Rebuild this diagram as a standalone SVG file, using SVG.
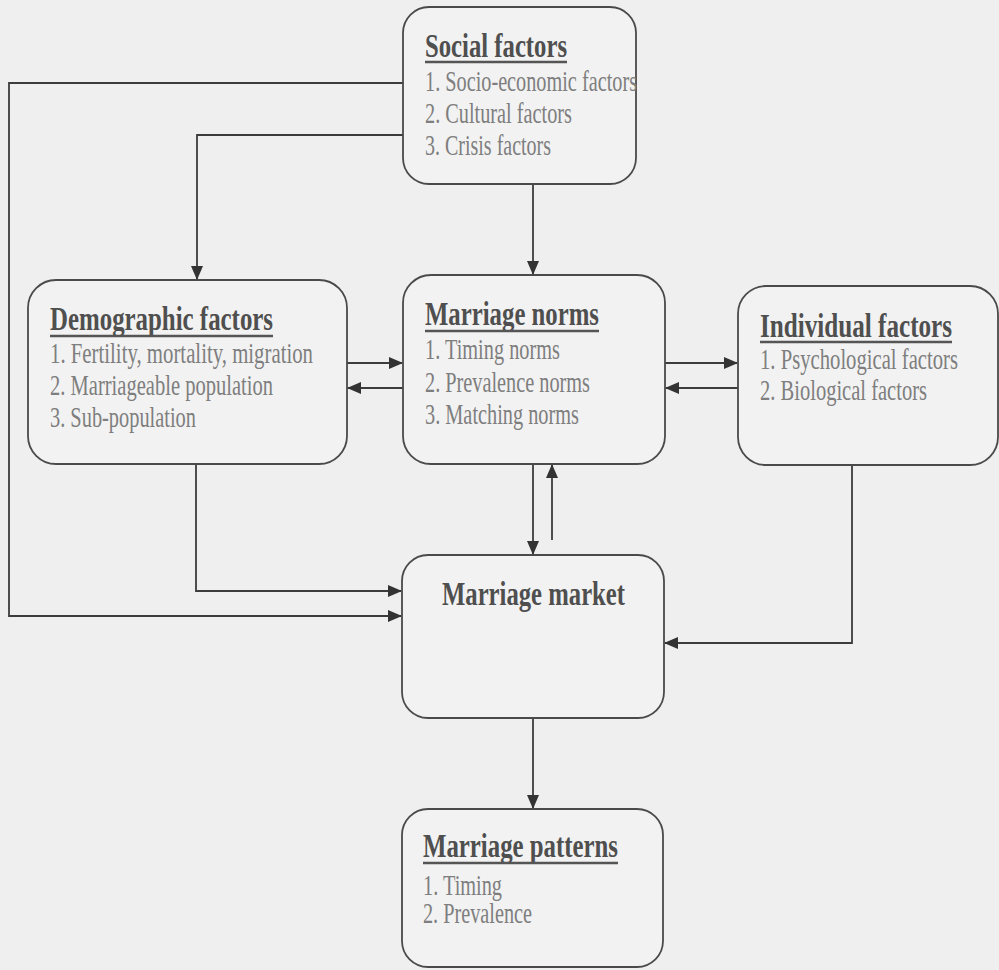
<svg xmlns="http://www.w3.org/2000/svg" width="999" height="970" viewBox="0 0 999 970">
<style>
.bg{fill:#efefef}
.box{fill:#f2f2f2;stroke:#4a4a4a;stroke-width:1.8}
.title{font-family:"Liberation Serif","Times New Roman",serif;font-weight:bold;font-size:33px;fill:#4f4f4f}
.item{font-family:"Liberation Serif","Times New Roman",serif;font-size:28.5px;fill:#7e7e7e}
.ul{stroke:#555;stroke-width:2.4}
.conn{fill:none;stroke:#3c3c3c;stroke-width:1.8}
</style>
<defs>
<marker id="ah" markerWidth="14" markerHeight="12" refX="13" refY="6" orient="auto" markerUnits="userSpaceOnUse">
<path d="M0,0 L14,6 L0,12 Z" fill="#333"/>
</marker>
</defs>
<rect class="bg" x="0" y="0" width="999" height="970"/>
<g id="connectors">
<path class="conn" d="M533,184 V274" marker-end="url(#ah)"/>
<path class="conn" d="M403,83 H9 V616 H401" marker-end="url(#ah)"/>
<path class="conn" d="M403,135 H197 V279" marker-end="url(#ah)"/>
<path class="conn" d="M196,464 V591 H401" marker-end="url(#ah)"/>
<path class="conn" d="M347,363 H402" marker-end="url(#ah)"/>
<path class="conn" d="M403,388 H348" marker-end="url(#ah)"/>
<path class="conn" d="M665,363 H737" marker-end="url(#ah)"/>
<path class="conn" d="M738,388 H666" marker-end="url(#ah)"/>
<path class="conn" d="M533,464 V554" marker-end="url(#ah)"/>
<path class="conn" d="M552,540 V465" marker-end="url(#ah)"/>
<path class="conn" d="M852,465 V643 H665" marker-end="url(#ah)"/>
<path class="conn" d="M533,718 V808" marker-end="url(#ah)"/>
</g>
<g id="social">
<rect class="box" x="403" y="7" width="233" height="177" rx="26"/>
<text class="title" transform="translate(425,57) scale(0.74,1)" textLength="191.9" lengthAdjust="spacingAndGlyphs">Social factors</text>
<line class="ul" x1="425" y1="62" x2="567" y2="62"/>
<text class="item" transform="translate(425,91) scale(0.74,1)" textLength="286.5" lengthAdjust="spacingAndGlyphs">1. Socio-economic factors</text>
<text class="item" transform="translate(425,123) scale(0.74,1)" textLength="198.6" lengthAdjust="spacingAndGlyphs">2. Cultural factors</text>
<text class="item" transform="translate(425,155) scale(0.74,1)" textLength="170.3" lengthAdjust="spacingAndGlyphs">3. Crisis factors</text>
</g>
<g id="demographic">
<rect class="box" x="28" y="280" width="319" height="184" rx="28"/>
<text class="title" transform="translate(50,330) scale(0.74,1)" textLength="301.4" lengthAdjust="spacingAndGlyphs">Demographic factors</text>
<line class="ul" x1="50" y1="336" x2="273" y2="336"/>
<text class="item" transform="translate(50,363) scale(0.74,1)" textLength="355.4" lengthAdjust="spacingAndGlyphs">1. Fertility, mortality, migration</text>
<text class="item" transform="translate(50,395) scale(0.74,1)" textLength="301.4" lengthAdjust="spacingAndGlyphs">2. Marriageable population</text>
<text class="item" transform="translate(50,427) scale(0.74,1)" textLength="197.3" lengthAdjust="spacingAndGlyphs">3. Sub-population</text>
</g>
<g id="norms">
<rect class="box" x="403" y="275" width="262" height="189" rx="28"/>
<text class="title" transform="translate(425,325) scale(0.74,1)" textLength="235.1" lengthAdjust="spacingAndGlyphs">Marriage norms</text>
<line class="ul" x1="425" y1="331" x2="599" y2="331"/>
<text class="item" transform="translate(425,359) scale(0.74,1)" textLength="182.4" lengthAdjust="spacingAndGlyphs">1. Timing norms</text>
<text class="item" transform="translate(425,392) scale(0.74,1)" textLength="223" lengthAdjust="spacingAndGlyphs">2. Prevalence norms</text>
<text class="item" transform="translate(425,424) scale(0.74,1)" textLength="208.1" lengthAdjust="spacingAndGlyphs">3. Matching norms</text>
</g>
<g id="individual">
<rect class="box" x="738" y="286" width="260" height="179" rx="28"/>
<text class="title" transform="translate(760,337) scale(0.74,1)" textLength="259.5" lengthAdjust="spacingAndGlyphs">Individual factors</text>
<line class="ul" x1="760" y1="342" x2="952" y2="342"/>
<text class="item" transform="translate(760,369) scale(0.74,1)" textLength="267.6" lengthAdjust="spacingAndGlyphs">1. Psychological factors</text>
<text class="item" transform="translate(760,400) scale(0.74,1)" textLength="225.7" lengthAdjust="spacingAndGlyphs">2. Biological factors</text>
</g>
<g id="market">
<rect class="box" x="402" y="555" width="262" height="163" rx="26"/>
<text class="title" transform="translate(442,605) scale(0.74,1)" textLength="247.3" lengthAdjust="spacingAndGlyphs">Marriage market</text>
</g>
<g id="patterns">
<rect class="box" x="402" y="809" width="261" height="158" rx="26"/>
<text class="title" transform="translate(423,857) scale(0.74,1)" textLength="263.5" lengthAdjust="spacingAndGlyphs">Marriage patterns</text>
<line class="ul" x1="423" y1="863" x2="618" y2="863"/>
<text class="item" transform="translate(423,895) scale(0.74,1)" textLength="106.8" lengthAdjust="spacingAndGlyphs">1. Timing</text>
<text class="item" transform="translate(423,923) scale(0.74,1)" textLength="147.3" lengthAdjust="spacingAndGlyphs">2. Prevalence</text>
</g>
</svg>
